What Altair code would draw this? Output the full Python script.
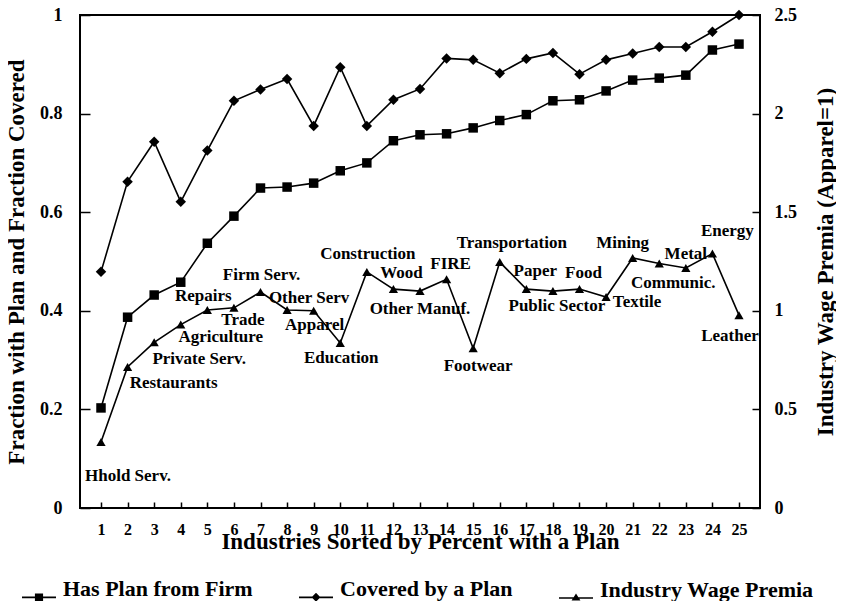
import altair as alt
import pandas as pd

# ---------------- data ----------------
industry_rank = list(range(1, 26))

has_plan = [0.203, 0.387, 0.432, 0.458, 0.537, 0.592, 0.649, 0.651, 0.659, 0.684,
            0.700, 0.745, 0.757, 0.759, 0.771, 0.786, 0.798, 0.826, 0.828, 0.846,
            0.868, 0.872, 0.878, 0.929, 0.941]

covered = [0.479, 0.662, 0.743, 0.621, 0.725, 0.826, 0.849, 0.870, 0.775, 0.894,
           0.775, 0.828, 0.850, 0.912, 0.909, 0.882, 0.911, 0.923, 0.880, 0.909,
           0.922, 0.935, 0.935, 0.966, 1.000]

wage_premia = [0.335, 0.715, 0.840, 0.930, 1.004, 1.015, 1.095, 1.004, 1.000, 0.837,
               1.197, 1.110, 1.100, 1.160, 0.810, 1.247, 1.110, 1.100, 1.110, 1.070,
               1.268, 1.240, 1.217, 1.290, 0.978]

industry_names = ["Hhold Serv.", "Restaurants", "Private Serv.", "Agriculture", "Repairs",
                  "Trade", "Firm Serv.", "Other Serv", "Apparel", "Education",
                  "Construction", "Wood", "Other Manuf.", "FIRE", "Footwear",
                  "Transportation", "Paper", "Public Sector", "Food", "Textile",
                  "Mining", "Communic.", "Metal", "Energy", "Leather"]

# label offsets from the triangle marker (pixels)
label_dx = [27, 46, 45, 40, -4, 9, 1, 22, 1, 1, 1, 8, 0, 4, 5, 12, 9, 4, 4, 31, -10, 14, 0, 15, -9]
label_dy = [34, 16, 17, 12, -14, 12, -17, -12, 14, 15, -18, -16, 18, -15, 18, -19, -18, 15, -16, 5, -15, 20, -14, -23, 21]

series_names = ["Has Plan from Firm", "Covered by a Plan", "Industry Wage Premia"]
left_ticks = [0, 0.2, 0.4, 0.6, 0.8, 1]
right_ticks = [0, 0.5, 1, 1.5, 2, 2.5]

df = pd.DataFrame({
    "rank": industry_rank,
    "plan": has_plan,
    "covered": covered,
    "wage": wage_premia,
    "name": industry_names,
    "dx": label_dx,
    "dy": label_dy,
})
legend_df = pd.DataFrame({"series": series_names})

FONT = "Liberation Serif"
W, H = 680, 493
X_DOMAIN = [0.21, 25.79]
R_DOMAIN = [0, 2.5]
PX_PER_X = W / (X_DOMAIN[1] - X_DOMAIN[0])
PX_PER_R = H / (R_DOMAIN[1] - R_DOMAIN[0])

# legend symbols: short line (thin filled bar) with a marker, all clockwise
legend_paths = [
    "M-1,0.42H1V0.52H-1ZM-0.24,0.23H0.24V0.71H-0.24Z",
    "M-1,0.42H1V0.52H-1ZM0,0.21L0.26,0.47L0,0.73L-0.26,0.47Z",
    "M-1,0.42H1V0.52H-1ZM0,0.2L0.26,0.62L-0.26,0.62Z",
]

# inward ticks: axis shifted inside by its tick length
XT, LT, RT = 6, 10, 8

x_axis = alt.Axis(
    values=industry_rank, title="Industries Sorted by Percent with a Plan",
    grid=False, domain=False, offset=-XT, tickSize=XT, labelPadding=13,
    labelFlush=False, labelOverlap=False,
    labelFont=FONT, labelFontSize=16, labelFontWeight="bold", labelColor="black",
    titleFont=FONT, titleFontSize=23, titleFontWeight="bold", titleColor="black",
    titleBaseline="alphabetic", titleY=40 + XT,
    tickColor="black", tickWidth=1.5,
)
x_scale = alt.Scale(domain=X_DOMAIN, nice=False, zero=False)


def xq(field):
    return alt.X(field, type="quantitative", scale=x_scale, axis=x_axis)


left_axis = alt.Axis(
    orient="left", values=left_ticks, format="~g", grid=False, domain=False,
    offset=-LT, tickSize=LT, labelPadding=18, labelFlush=False, labelOverlap=False,
    labelFont=FONT, labelFontSize=18, labelFontWeight="bold", labelColor="black",
    title="Fraction with Plan and Fraction Covered",
    titleFont=FONT, titleFontSize=23, titleFontWeight="bold", titleColor="black",
    titleAngle=270, titleX=-57 - LT, titleY=H / 2, titleBaseline="alphabetic", titleAlign="center",
    tickColor="black", tickWidth=1.5,
)
left_scale = alt.Scale(domain=[0, 1], nice=False)

right_axis = alt.Axis(
    orient="right", values=right_ticks, format="~g", grid=False, domain=False,
    offset=-RT, tickSize=RT, labelPadding=14, labelFlush=False, labelOverlap=False,
    labelFont=FONT, labelFontSize=18, labelFontWeight="bold", labelColor="black",
    title="Industry Wage Premia (Apparel=1)",
    titleFont=FONT, titleFontSize=23, titleFontWeight="bold", titleColor="black",
    titleAngle=270, titleX=72 + RT, titleY=H / 2, titleBaseline="alphabetic", titleAlign="center",
    tickColor="black", tickWidth=1.5,
)
right_scale = alt.Scale(domain=R_DOMAIN, nice=False)

base = alt.Chart(df)

plan_line = base.mark_line(color="black", strokeWidth=1.6).encode(
    x=xq("rank"), y=alt.Y("plan:Q", scale=left_scale, axis=left_axis))
plan_pts = base.mark_point(shape="square", filled=True, color="black", size=90, opacity=1).encode(
    x=xq("rank"), y=alt.Y("plan:Q", scale=left_scale, axis=left_axis))
cov_line = base.mark_line(color="black", strokeWidth=1.6).encode(
    x=xq("rank"), y=alt.Y("covered:Q", scale=left_scale, axis=left_axis))
cov_pts = base.mark_point(shape="diamond", filled=True, color="black", size=110, opacity=1).encode(
    x=xq("rank"), y=alt.Y("covered:Q", scale=left_scale, axis=left_axis))

legend_layer = alt.Chart(legend_df).mark_point(filled=True, opacity=0).encode(
    x=alt.value(0), y=alt.value(0), color=alt.value("black"),
    shape=alt.Shape(
        "series:N",
        scale=alt.Scale(domain=series_names, range=legend_paths),
        legend=alt.Legend(
            orient="none", legendX=-58, legendY=557, direction="horizontal", columns=3,
            gridAlign="each", columnPadding=46, title=None, padding=0,
            labelFont=FONT, labelFontSize=22, labelFontWeight="bold", labelColor="black",
            labelOffset=7, labelLimit=400,
            symbolSize=1156, symbolStrokeWidth=0, symbolStrokeColor="black",
            symbolFillColor="black", symbolOpacity=1,
        ),
    ),
)

left_layer = alt.layer(plan_line, plan_pts, cov_line, cov_pts, legend_layer)

wage_line = base.mark_line(color="black", strokeWidth=1.6).encode(
    x=xq("rank"), y=alt.Y("wage:Q", scale=right_scale, axis=right_axis))
wage_pts = base.mark_point(shape="triangle-up", filled=True, color="black", size=85, opacity=1).encode(
    x=xq("rank"), y=alt.Y("wage:Q", scale=right_scale, axis=right_axis))
wage_text = base.transform_calculate(
    lx=f"datum.rank + datum.dx / {PX_PER_X}",
    ly=f"datum.wage - datum.dy / {PX_PER_R}",
).mark_text(font=FONT, fontSize=17, fontWeight="bold", color="black",
            align="center", baseline="middle").encode(
    x=xq("lx"), y=alt.Y("ly:Q", scale=right_scale, axis=right_axis), text="name:N",
)

right_layer = alt.layer(wage_line, wage_pts, wage_text)

chart = alt.layer(left_layer, right_layer).resolve_scale(
    y="independent", shape="independent"
).properties(
    width=W, height=H,
    autosize=alt.AutoSizeParams(type="none"),
    padding={"left": 72, "top": 7, "right": 76, "bottom": 93},
    background="white",
).configure_view(
    stroke="black", strokeWidth=2
).configure_axis(labelOverlap=False)

chart.save("out.html", embed_options={"renderer": "svg", "actions": False})
